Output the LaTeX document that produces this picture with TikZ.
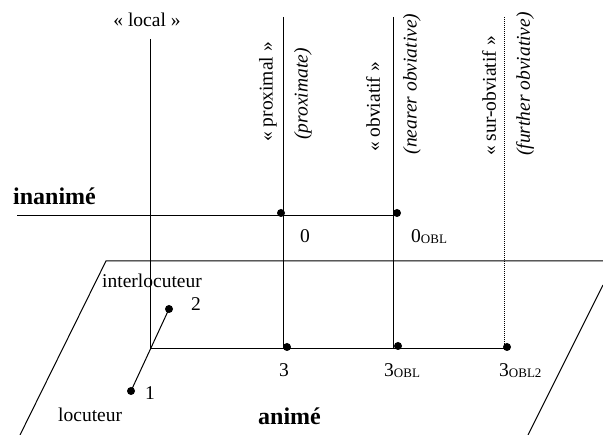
\documentclass[tikz,border=0pt]{standalone}
\usepackage{fontspec}
\setmainfont{Liberation Serif}
\newcommand\sbxobl[1]{\raisebox{-1pt}{\fontsize{13}{13}\selectfont #1}}
\begin{document}
\begin{tikzpicture}[x=1pt,y=-1pt,
  lbl/.style={inner sep=0pt, font=\fontsize{19.5}{22}\selectfont},
  big/.style={inner sep=0pt, font=\fontsize{24}{28}\selectfont\bfseries},
  vlbl/.style={lbl, rotate=90},
  dotn/.style={circle, fill=black, inner sep=0pt, minimum size=8pt},
  axis/.style={draw=black, line width=1pt},
  dotline/.style={draw=black, line width=0.7pt, dash pattern=on 1pt off 1pt}]
\useasboundingbox (0,0) rectangle (603,435);
% coordinates
\coordinate (O) at (150,349);
\coordinate (Ltop) at (150,39);
\coordinate (Ptop) at (283,17); \coordinate (Pbot) at (283,349);
\coordinate (Otop) at (393,17); \coordinate (Obot) at (393,349);
\coordinate (Stop) at (504,17); \coordinate (Sbot) at (504,349);
\coordinate (Iw) at (17,216); \coordinate (Ie) at (393,216);
\coordinate (Ae) at (507,349);
\coordinate (PA) at (106,261); \coordinate (PB) at (603,261);
\coordinate (PC) at (20,435); \coordinate (PD) at (528,435);
\coordinate (PE) at (603,285);
% plane
\draw[axis] (PC) -- (PA) -- (PB);
\draw[axis] (PD) -- (PE);
% axes
\draw[axis] (Ltop) -- (O) -- (Ae);
\draw[axis] (Ptop) -- (Pbot);
\draw[axis] (Otop) -- (Obot);
\draw[dotline] (Stop) -- (Sbot);
\draw[axis] (Iw) -- (Ie);
% dots
\node[dotn] (d0) at (281,213) {};
\node[dotn] (d0o) at (397,213) {};
\node[dotn] (d3) at (287,347) {};
\node[dotn] (d3o) at (398,346) {};
\node[dotn] (d3oo) at (507,347) {};
\node[dotn] (d2) at (169,309) {};
\node[dotn] (d1) at (131,391) {};
\draw[axis] (d1.center) -- (d2.center);
% vertical labels
\node[vlbl] (tprox) at (268,92) {« proximal »};
\node[vlbl] (tproxe) at (303,94) {\itshape (proximate)};
\node[vlbl] (tobv) at (373,107) {« obviatif »};
\node[vlbl] (tobve) at (412,84) {\itshape (nearer obviative)};
\node[vlbl] (tsur) at (489,96) {« sur-obviatif »};
\node[vlbl] (tsure) at (525,84) {\itshape (further obviative)};
% horizontal labels
\node[lbl, anchor=base] (tlocal) at (147,27) {« local »};
\node[big, anchor=base west] (tinan) at (13,205) {inanimé};
\node[big, anchor=base west] (tanim) at (258,425) {animé};
\node[lbl, anchor=base west] (tinter) at (102,288) {interlocuteur};
\node[lbl, anchor=base] (t2) at (196,311) {2};
\node[lbl, anchor=base] (t1) at (150,400) {1};
\node[lbl, anchor=base west] (tloc) at (58,422) {locuteur};
\node[lbl, anchor=base] (t0) at (305,243) {0};
\node[lbl, anchor=base west] (t0o) at (411,243) {0\sbxobl{OBL}};
\node[lbl, anchor=base] (t3) at (284,377) {3};
\node[lbl, anchor=base west] (t3o) at (384,377) {3\sbxobl{OBL}};
\node[lbl, anchor=base west] (t3oo) at (499,377) {3\sbxobl{OBL2}};
\end{tikzpicture}
\end{document}
